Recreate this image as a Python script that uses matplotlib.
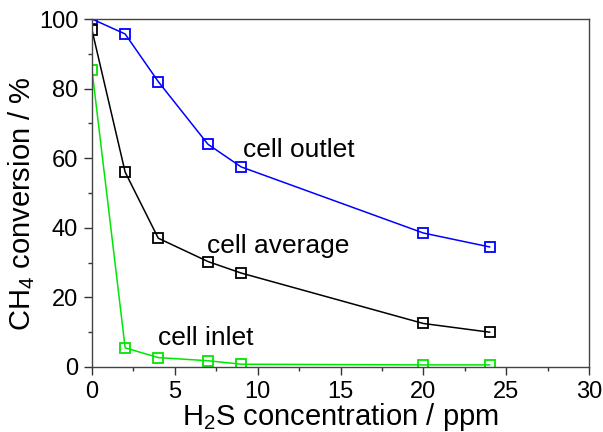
import matplotlib
matplotlib.use("Agg")
import matplotlib.pyplot as plt
from matplotlib.ticker import MultipleLocator

plt.rcParams['font.family'] = 'Liberation Sans'
plt.rcParams['mathtext.fontset'] = 'custom'
plt.rcParams['mathtext.rm'] = 'Liberation Sans'
plt.rcParams['mathtext.it'] = 'Liberation Sans'

# === Data ===
h2s_ppm = [0, 2, 4, 7, 9, 20, 24]
conv_outlet = [100, 95.7, 82, 64, 57.5, 38.5, 34.5]
conv_average = [96.8, 56, 37, 30.3, 27, 12.5, 10]
conv_inlet = [85.3, 5.5, 2.7, 1.8, 0.8, 0.6, 0.6]

fig = plt.figure(figsize=(6.03, 4.32), dpi=100)
ax = fig.add_axes([0.1526, 0.1505, 0.8242, 0.8055])

marker_style = dict(marker='s', markersize=7, markerfacecolor='none',
                    markeredgewidth=1.3, linewidth=1.1)
ax.plot(h2s_ppm, conv_outlet, color='#0000ff', **marker_style)
ax.plot(h2s_ppm, conv_average, color='black', **marker_style)
ax.plot(h2s_ppm, conv_inlet, color='#00e600', **marker_style)

ax.text(9.1, 60.3, 'cell outlet', fontsize=19, ha='left', va='baseline')
ax.text(6.95, 32.8, 'cell average', fontsize=19, ha='left', va='baseline')
ax.text(4.0, 6.3, 'cell inlet', fontsize=19, ha='left', va='baseline')

ax.set_xlim(0, 30)
ax.set_ylim(0, 100)
ax.xaxis.set_major_locator(MultipleLocator(5))
ax.xaxis.set_minor_locator(MultipleLocator(2.5))
ax.yaxis.set_major_locator(MultipleLocator(20))
ax.yaxis.set_minor_locator(MultipleLocator(10))
ax.tick_params(which='both', direction='out', top=False, right=False,
               width=1, colors='#333333', labelcolor='black')
ax.tick_params(which='major', length=6, labelsize=17, pad=4)
ax.tick_params(which='minor', length=3)
for sp in ax.spines.values():
    sp.set_color('#444444')
    sp.set_linewidth(1)

ax.set_xlabel(r'H$_2$S concentration / ppm', fontsize=21, labelpad=-1)
ax.set_ylabel(r'CH$_4$ conversion / %', fontsize=21)
ax.yaxis.set_label_coords(-0.11, 0.47)

fig.savefig('out.png', dpi=100)
